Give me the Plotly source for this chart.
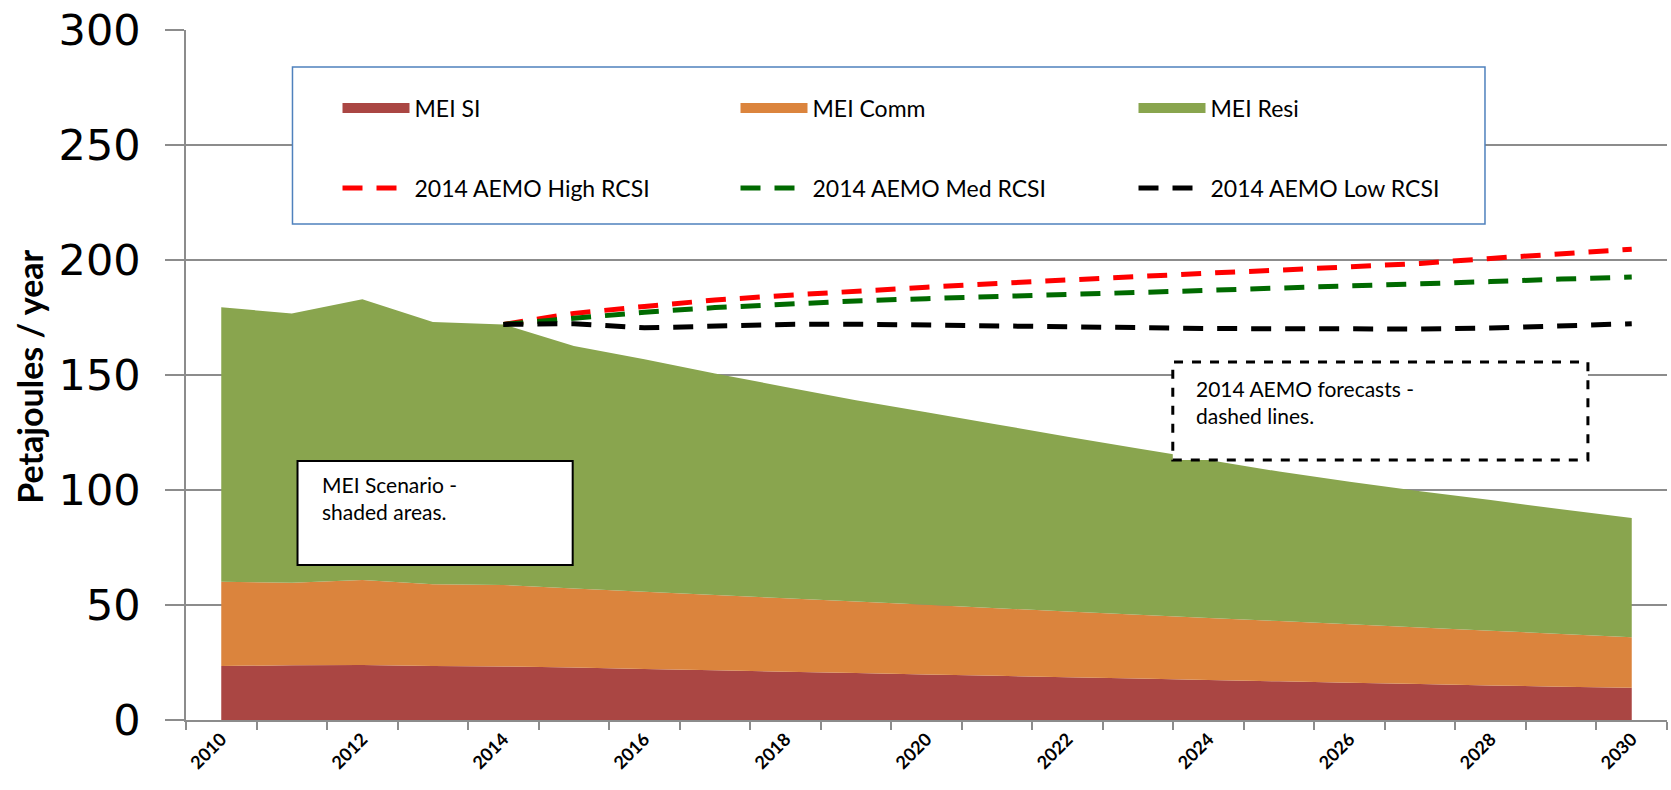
import plotly.graph_objects as go

years = list(range(2010, 2031))
mei_si = [23.5, 23.8, 23.9, 23.5, 23.3, 22.8, 22.2, 21.6, 21.0, 20.4, 19.8,
          19.2, 18.6, 18.0, 17.4, 16.8, 16.2, 15.6, 15.0, 14.5, 14.0]
mei_comm = [36.6, 35.9, 37.0, 35.5, 35.4, 34.4, 33.6, 32.7, 31.9, 31.1, 30.3,
            29.4, 28.6, 27.8, 27.0, 26.2, 25.4, 24.6, 23.8, 22.9, 22.0]
mei_resi = [119.4, 117.0, 122.0, 114.0, 113.3, 105.4, 101.0, 96.4, 91.9, 87.5, 83.7,
            79.9, 76.0, 72.2, 68.6, 65.0, 62.0, 59.3, 56.8, 54.2, 51.8]

aemo_years = list(range(2014, 2031))
aemo_high = [172.0, 176.8, 179.8, 182.6, 184.6, 186.6, 188.2, 189.8, 191.4, 193.0,
             194.3, 195.6, 196.9, 198.5, 200.7, 202.7, 204.7]
aemo_med = [172.0, 174.8, 177.3, 179.3, 180.8, 182.2, 183.2, 184.0, 184.9, 185.8,
            186.8, 187.8, 188.6, 189.6, 190.6, 191.7, 192.6]
aemo_low = [172.0, 172.3, 170.5, 171.4, 172.0, 172.1, 171.6, 171.2, 170.9, 170.6,
            170.2, 170.0, 169.9, 170.0, 170.4, 171.2, 172.3]

tick_years = list(range(2010, 2031, 2))
tick_labels = [str(y) for y in tick_years]

area_series = [("MEI SI", mei_si, "#AA4643"),
               ("MEI Comm", mei_comm, "#DB843D"),
               ("MEI Resi", mei_resi, "#89A54E")]
line_series = [("2014 AEMO High RCSI", aemo_high, "#FF0000"),
               ("2014 AEMO Med RCSI", aemo_med, "#006A00"),
               ("2014 AEMO Low RCSI", aemo_low, "#000000")]

fig = go.Figure()
for name, vals, col in area_series:
    fig.add_trace(go.Scatter(x=years, y=vals, name=name, stackgroup="one",
                             mode="none", fillcolor=col, showlegend=False,
                             legendgroup=name))
# legend-only entries with a thick swatch for the areas
for name, vals, col in area_series:
    fig.add_trace(go.Scatter(x=[None], y=[None], name=name, mode="lines",
                             line=dict(color=col, width=15), legendgroup=name,
                             legend="legend"))

for name, vals, col in line_series:
    fig.add_trace(go.Scatter(x=aemo_years, y=vals, name=name, mode="lines",
                             line=dict(color=col, width=5, dash="20px,14px"),
                             legend="legend2"))

grid = "#8C8C8C"
leg_font = dict(family="Lato", size=23, color="black")
fig.update_layout(
    template="none",
    width=1671, height=790,
    margin=dict(l=186, r=4, t=30, b=70, autoexpand=False),
    plot_bgcolor="white", paper_bgcolor="white",
    showlegend=True,
    xaxis=dict(range=[2009.5, 2030.5], tickmode="array", tickvals=tick_years,
               ticktext=tick_labels, tickangle=-45, ticks="", automargin=False,
               tickfont=dict(family="Lato", size=18, color="black", weight="bold"),
               showgrid=False, showline=True, linecolor=grid, linewidth=1.5,
               zeroline=False,
               minor=dict(tick0=2009.5, dtick=1, ticks="outside", ticklen=8,
                          tickcolor=grid, tickwidth=1.5, showgrid=False)),
    yaxis=dict(range=[0, 300], dtick=50, tick0=0, showgrid=True, gridcolor=grid,
               gridwidth=1.5, showline=True, linecolor=grid, linewidth=1.5,
               zeroline=False, ticks="outside", ticklen=19, tickcolor=grid,
               tickwidth=1.5, ticklabelstandoff=16, automargin=False,
               ticklabeloverflow="allow",
               tickfont=dict(family="DejaVu Sans", size=43, color="black")),
    legend=dict(orientation="h", x=0.1023, y=0.887, xanchor="left", yanchor="middle",
                entrywidth=316, itemwidth=67, traceorder="normal",
                bgcolor="rgba(0,0,0,0)", borderwidth=0, font=leg_font),
    legend2=dict(orientation="h", x=0.1023, y=0.771, xanchor="left", yanchor="middle",
                 entrywidth=316, itemwidth=67, traceorder="normal",
                 bgcolor="rgba(0,0,0,0)", borderwidth=0, font=leg_font),
    shapes=[
        dict(type="rect", xref="paper", yref="paper", x0=0.0719, x1=0.8771,
             y0=0.7188, y1=0.9464, line=dict(color="#4F81BD", width=1.5),
             fillcolor="white", layer="above"),
        dict(type="rect", xref="paper", yref="paper", x0=0.0753, x1=0.2611,
             y0=0.2246, y1=0.3754, line=dict(color="black", width=2),
             fillcolor="white", layer="above"),
        dict(type="rect", xref="paper", yref="paper", x0=0.6663, x1=0.9466,
             y0=0.3768, y1=0.5188, line=dict(color="black", width=3, dash="dash"),
             fillcolor="white", layer="above"),
    ],
    annotations=[
        dict(xref="paper", yref="paper", x=-0.1053, y=0.4975, xanchor="center",
             yanchor="middle", textangle=-90, showarrow=False,
             text="Petajoules / year",
             font=dict(family="Lato", size=34, color="black", weight="bold")),
        dict(xref="paper", yref="paper", x=0.0902, y=0.362, xanchor="left",
             yanchor="top", align="left", showarrow=False,
             text="MEI Scenario -<br>shaded areas.",
             font=dict(family="Lato", size=21, color="black")),
        dict(xref="paper", yref="paper", x=0.6805, y=0.502, xanchor="left",
             yanchor="top", align="left", showarrow=False,
             text="2014 AEMO forecasts -<br>dashed lines.",
             font=dict(family="Lato", size=21, color="black")),
    ],
)

# remove the default 8px body margin so the figure fills the window exactly
fig.write_html("out.html",
               config={"displayModeBar": False},
               post_script="document.body.style.margin='0px';"
                           "document.body.style.overflow='hidden';")
